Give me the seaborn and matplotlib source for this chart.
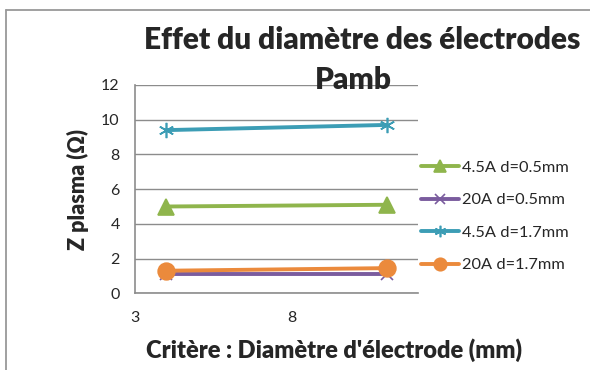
import matplotlib
matplotlib.use("Agg")
import matplotlib.pyplot as plt
from matplotlib.lines import Line2D
import seaborn as sns
import pandas as pd

# Electrode diameter (mm) and plasma impedance (ohm) for each current / gap setting
diametre = [4, 11]
z_45A_05 = [5.0, 5.1]
z_20A_05 = [1.1, 1.1]
z_45A_17 = [9.4, 9.7]
z_20A_17 = [1.3, 1.45]

series_names = ["4.5A d=0.5mm", "20A d=0.5mm", "4.5A d=1.7mm", "20A d=1.7mm"]
series_values = [z_45A_05, z_20A_05, z_45A_17, z_20A_17]
colors = ["#8FB54C", "#7A5C9E", "#3C9DB5", "#EB8A3C"]
markers = ["^", "x", (6, 2, 0), "o"]
msizes = [11, 9, 11, 12]

frames = []
for name, vals in zip(series_names, series_values):
    frames.append(pd.DataFrame({"diametre": diametre, "z": vals, "serie": name}))
df = pd.concat(frames, ignore_index=True)

sns.set_theme(style="white")
plt.rcParams["font.family"] = ["Lato", "DejaVu Sans"]

fig = plt.figure(figsize=(5.9, 3.7), dpi=100)
ax = fig.add_axes([0.2288, 0.2073, 0.4797, 0.563])

handles = []
for name, col, mk, ms in zip(series_names, colors, markers, msizes):
    sub = df[df["serie"] == name]
    sns.lineplot(data=sub, x="diametre", y="z", ax=ax, color=col, linewidth=2.8,
                 marker=mk, markersize=ms, markeredgecolor=col, markerfacecolor=col,
                 markeredgewidth=1.2, legend=False)
    handles.append(Line2D([0], [0], color=col, linewidth=2.8, marker=mk,
                          markersize=ms * 0.75, markeredgecolor=col,
                          markerfacecolor=col, markeredgewidth=1.2))

ax.set_xlim(3, 12)
ax.set_ylim(0, 12)
ax.set_yticks([0, 2, 4, 6, 8, 10, 12])
ax.set_xticks([3, 8])
ax.set_xticks(range(3, 13), minor=True)
ax.grid(axis="y", color="#8c8c8c", linewidth=1.0)
ax.grid(axis="x", visible=False)
for s in ["top", "right"]:
    ax.spines[s].set_visible(False)
for s in ["left", "bottom"]:
    ax.spines[s].set_color("#8c8c8c")
    ax.spines[s].set_linewidth(1.2)
ax.tick_params(axis="x", which="minor", direction="in", length=4, color="#8c8c8c", width=1)
ax.tick_params(axis="x", which="major", direction="inout", length=8, color="#8c8c8c",
               width=1, labelsize=11.5, pad=9)
ax.tick_params(axis="y", which="major", direction="out", length=3, color="#8c8c8c",
               width=1, labelsize=11.5, pad=8)

ax.set_xlabel("")
ax.set_ylabel("")
fig.text(334 / 590, 1 - 350 / 370, "Critère : Diamètre d'électrode (mm)", ha="center",
         va="center", fontsize=17, fontweight="heavy")
fig.text(78 / 590, 1 - 190 / 370, "Z plasma (Ω)", ha="center", va="center",
         rotation=90, fontsize=15.5, fontweight="heavy")

fig.text(362 / 590, 1 - 40 / 370, "Effet du diamètre des électrodes", ha="center",
         va="center", fontsize=21.5, fontweight="heavy")
fig.text(353 / 590, 1 - 80 / 370, "Pamb", ha="center", va="center", fontsize=21.5,
         fontweight="heavy")

fig.legend(handles, series_names, loc="upper left", bbox_to_anchor=(0.703, 0.584),
           frameon=False, fontsize=11.8, handlelength=2.3, handletextpad=0.2,
           labelspacing=1.1, borderaxespad=0)

# chart area border (only top and left edges visible)
fig.add_artist(Line2D([6 / 590, 1.0], [1 - 10 / 370, 1 - 10 / 370], color="#999999",
                      linewidth=1.3, transform=fig.transFigure))
fig.add_artist(Line2D([6 / 590, 6 / 590], [1 - 10 / 370, 0.0], color="#999999",
                      linewidth=1.3, transform=fig.transFigure))

fig.savefig("out.png", dpi=100)
